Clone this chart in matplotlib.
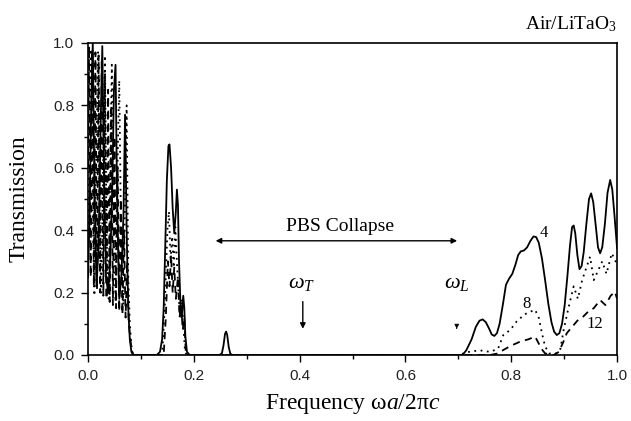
import numpy as np
import matplotlib
matplotlib.use("Agg")
import matplotlib.pyplot as plt
from matplotlib.ticker import MultipleLocator

# ---- data (frequency wa/2pic, transmission) ----
# N = 4 layers (solid)
n4_x = [0.000, 0.003, 0.006, 0.009, 0.012, 0.016, 0.020, 0.024, 0.027, 0.030,
        0.034, 0.038, 0.042, 0.046, 0.049, 0.052, 0.055, 0.059, 0.063, 0.067,
        0.070, 0.073, 0.076, 0.079, 0.082, 0.086,
        0.130, 0.136, 0.140, 0.143, 0.146, 0.149, 0.152, 0.154, 0.157, 0.160,
        0.163, 0.166, 0.168, 0.170, 0.172, 0.175, 0.177, 0.180, 0.182, 0.184,
        0.187, 0.192,
        0.248, 0.253, 0.256, 0.259, 0.261, 0.263, 0.266, 0.269, 0.273,
        0.700, 0.708, 0.715, 0.725, 0.733, 0.740, 0.746, 0.752, 0.758, 0.763,
        0.768, 0.773, 0.778, 0.784, 0.790, 0.796, 0.802, 0.808, 0.813, 0.818,
        0.824, 0.830, 0.836, 0.842, 0.847, 0.852, 0.858, 0.864, 0.870, 0.876,
        0.881, 0.886, 0.891, 0.896, 0.901, 0.906, 0.911, 0.915, 0.918, 0.921,
        0.925, 0.929, 0.933, 0.937, 0.942, 0.947, 0.951, 0.955, 0.960, 0.964,
        0.968, 0.972, 0.977, 0.982, 0.987, 0.991, 0.995, 1.000]
n4_y = [0.25, 0.45, 0.80, 1.00, 0.55, 0.22, 0.35, 0.75, 0.99, 0.60,
        0.25, 0.20, 0.30, 0.55, 0.85, 0.93, 0.50, 0.18, 0.25, 0.45,
        0.77, 0.40, 0.15, 0.05, 0.01, 0.00,
        0.00, 0.01, 0.05, 0.15, 0.35, 0.56, 0.67, 0.675, 0.60, 0.47,
        0.39, 0.46, 0.53, 0.48, 0.30, 0.15, 0.12, 0.19, 0.15, 0.06,
        0.01, 0.00,
        0.00, 0.005, 0.03, 0.068, 0.075, 0.065, 0.025, 0.004, 0.00,
        0.00, 0.00, 0.015, 0.05, 0.09, 0.11, 0.114, 0.105, 0.085, 0.066,
        0.061, 0.07, 0.10, 0.16, 0.225, 0.245, 0.26, 0.29, 0.32, 0.332,
        0.335, 0.345, 0.365, 0.38, 0.378, 0.36, 0.31, 0.24, 0.165, 0.105,
        0.075, 0.064, 0.07, 0.10, 0.16, 0.25, 0.35, 0.41, 0.415, 0.39,
        0.32, 0.275, 0.285, 0.33, 0.42, 0.50, 0.518, 0.49, 0.41, 0.345,
        0.326, 0.345, 0.42, 0.52, 0.561, 0.53, 0.45, 0.343]

# N = 8 layers (dotted)
n8_x = [0.000, 0.002, 0.005, 0.009, 0.012, 0.015, 0.019, 0.022, 0.025, 0.029,
        0.032, 0.035, 0.039, 0.042, 0.045, 0.049, 0.052, 0.055, 0.059, 0.063,
        0.067, 0.070, 0.073, 0.076, 0.079, 0.082, 0.085,
        0.140, 0.145, 0.150, 0.153, 0.156, 0.159, 0.162, 0.165, 0.168, 0.171,
        0.174, 0.177, 0.180, 0.183, 0.186,
        0.700, 0.720, 0.740, 0.760, 0.775, 0.785, 0.798, 0.810, 0.825, 0.838,
        0.845, 0.852, 0.858, 0.864, 0.872, 0.885, 0.893, 0.899, 0.908, 0.918,
        0.926, 0.934, 0.942, 0.949, 0.956, 0.964, 0.972, 0.980, 0.990, 1.000]
n8_y = [0.40, 0.70, 0.98, 0.45, 0.19, 0.60, 0.97, 0.40, 0.20, 0.65,
        0.96, 0.38, 0.18, 0.62, 0.93, 0.35, 0.17, 0.55, 0.88, 0.30,
        0.16, 0.50, 0.80, 0.25, 0.10, 0.03, 0.00,
        0.00, 0.15, 0.40, 0.46, 0.30, 0.38, 0.28, 0.41, 0.30, 0.20,
        0.12, 0.18, 0.10, 0.02, 0.00,
        0.00, 0.01, 0.015, 0.01, 0.02, 0.064, 0.08, 0.107, 0.13, 0.14,
        0.145, 0.12, 0.07, 0.027, 0.005, 0.005, 0.02, 0.08, 0.15, 0.22,
        0.18, 0.24, 0.28, 0.315, 0.24, 0.27, 0.30, 0.26, 0.326, 0.29]

# N = 12 layers (dashed)
n12_x = [0.000, 0.002, 0.005, 0.008, 0.011, 0.014, 0.017, 0.020, 0.023, 0.026,
         0.029, 0.032, 0.035, 0.038, 0.041, 0.044, 0.047, 0.050, 0.053, 0.056,
         0.059, 0.062, 0.065, 0.068, 0.071, 0.074, 0.077, 0.080, 0.083, 0.086,
         0.143, 0.147, 0.151, 0.154, 0.157, 0.160, 0.163, 0.166, 0.170, 0.173,
         0.176, 0.179, 0.182, 0.185,
         0.700, 0.760, 0.775, 0.785, 0.800, 0.817, 0.832, 0.845, 0.851, 0.857,
         0.864, 0.880, 0.890, 0.898, 0.905, 0.915, 0.925, 0.936, 0.946, 0.956,
         0.968, 0.978, 0.988, 0.996, 1.000]
n12_y = [0.60, 0.99, 0.25, 0.98, 0.22, 0.97, 0.21, 0.96, 0.20, 0.95,
         0.19, 0.90, 0.18, 0.85, 0.17, 0.80, 0.16, 0.70, 0.15, 0.60,
         0.14, 0.50, 0.13, 0.40, 0.12, 0.30, 0.10, 0.05, 0.01, 0.00,
         0.00, 0.12, 0.30, 0.22, 0.32, 0.20, 0.28, 0.18, 0.25, 0.12,
         0.16, 0.08, 0.12, 0.00,
         0.00, 0.00, 0.005, 0.016, 0.03, 0.043, 0.05, 0.059, 0.04, 0.02,
         0.005, 0.00, 0.01, 0.04, 0.07, 0.09, 0.11, 0.123, 0.14, 0.15,
         0.176, 0.16, 0.19, 0.203, 0.18]

curve_labels = ["4", "8", "12"]
curve_label_pos = [(0.862, 0.39), (0.829, 0.165), (0.957, 0.10)]

plt.rcParams['mathtext.fontset'] = 'custom'
plt.rcParams['mathtext.rm'] = 'Liberation Serif'
plt.rcParams['mathtext.it'] = 'Liberation Serif:italic'

fig = plt.figure(figsize=(6.31, 4.21), dpi=100)
ax = fig.add_axes([0.1395, 0.1568, 0.8384, 0.7411])

ax.plot(n4_x, n4_y, color='black', lw=1.3, ls='-')
ax.plot(n8_x, n8_y, color='black', lw=1.3, ls=(0, (1, 2.5)))
ax.plot(n12_x, n12_y, color='black', lw=1.3, ls=(0, (4, 3)))

ax.set_xlim(0, 1.0)
ax.set_ylim(0, 1.0)
ax.xaxis.set_major_locator(MultipleLocator(0.2))
ax.xaxis.set_minor_locator(MultipleLocator(0.1))
ax.yaxis.set_major_locator(MultipleLocator(0.2))
ax.yaxis.set_minor_locator(MultipleLocator(0.1))
ax.xaxis.set_major_formatter(lambda v, p: f"{v:.1f}")
ax.yaxis.set_major_formatter(lambda v, p: f"{v:.1f}")
ax.tick_params(which='major', direction='out', length=5, width=1,
               labelsize=11, pad=5)
ax.tick_params(which='minor', direction='out', length=3, width=1)
for lab in ax.get_xticklabels() + ax.get_yticklabels():
    lab.set_fontfamily('Liberation Sans')
    lab.set_color('#222222')
for sp in ax.spines.values():
    sp.set_linewidth(1.2)

ax.set_xlabel(r"Frequency $\mathrm{\omega}a/2\mathrm{\pi}c$", fontsize=17,
              family='Liberation Serif')
ax.set_ylabel("Transmission", fontsize=17, family='Liberation Serif')
ax.xaxis.set_label_coords(0.5, -0.12)
ax.yaxis.set_label_coords(-0.11, 0.5)

ax.text(1.0, 1.045, r"Air/LiTaO$_3$", transform=ax.transAxes, ha='right',
        va='baseline', fontsize=14, family='Liberation Serif')

# PBS collapse arrow
ax.annotate("", xy=(0.236, 0.366), xytext=(0.703, 0.366),
            arrowprops=dict(arrowstyle='<|-|>', color='black', lw=1,
                            mutation_scale=8))
ax.text(0.476, 0.385, "PBS Collapse", ha='center', va='bottom', fontsize=14,
        family='Liberation Serif')

# omega_T and omega_L markers
ax.annotate("", xy=(0.406, 0.075), xytext=(0.406, 0.18),
            arrowprops=dict(arrowstyle='-|>', color='black', lw=1,
                            mutation_scale=8))
ax.text(0.404, 0.20, r"$\omega_T$", ha='center', va='bottom', fontsize=16)
ax.annotate("", xy=(0.697, 0.075), xytext=(0.697, 0.095),
            arrowprops=dict(arrowstyle='-|>', color='black', lw=0.5,
                            mutation_scale=7))
ax.text(0.697, 0.20, r"$\omega_L$", ha='center', va='bottom', fontsize=16)

for lab, (lx, ly) in zip(curve_labels, curve_label_pos):
    ax.text(lx, ly, lab, ha='center', va='center', fontsize=12,
            family='Liberation Serif')

fig.savefig("out.png", dpi=100, facecolor='white')
